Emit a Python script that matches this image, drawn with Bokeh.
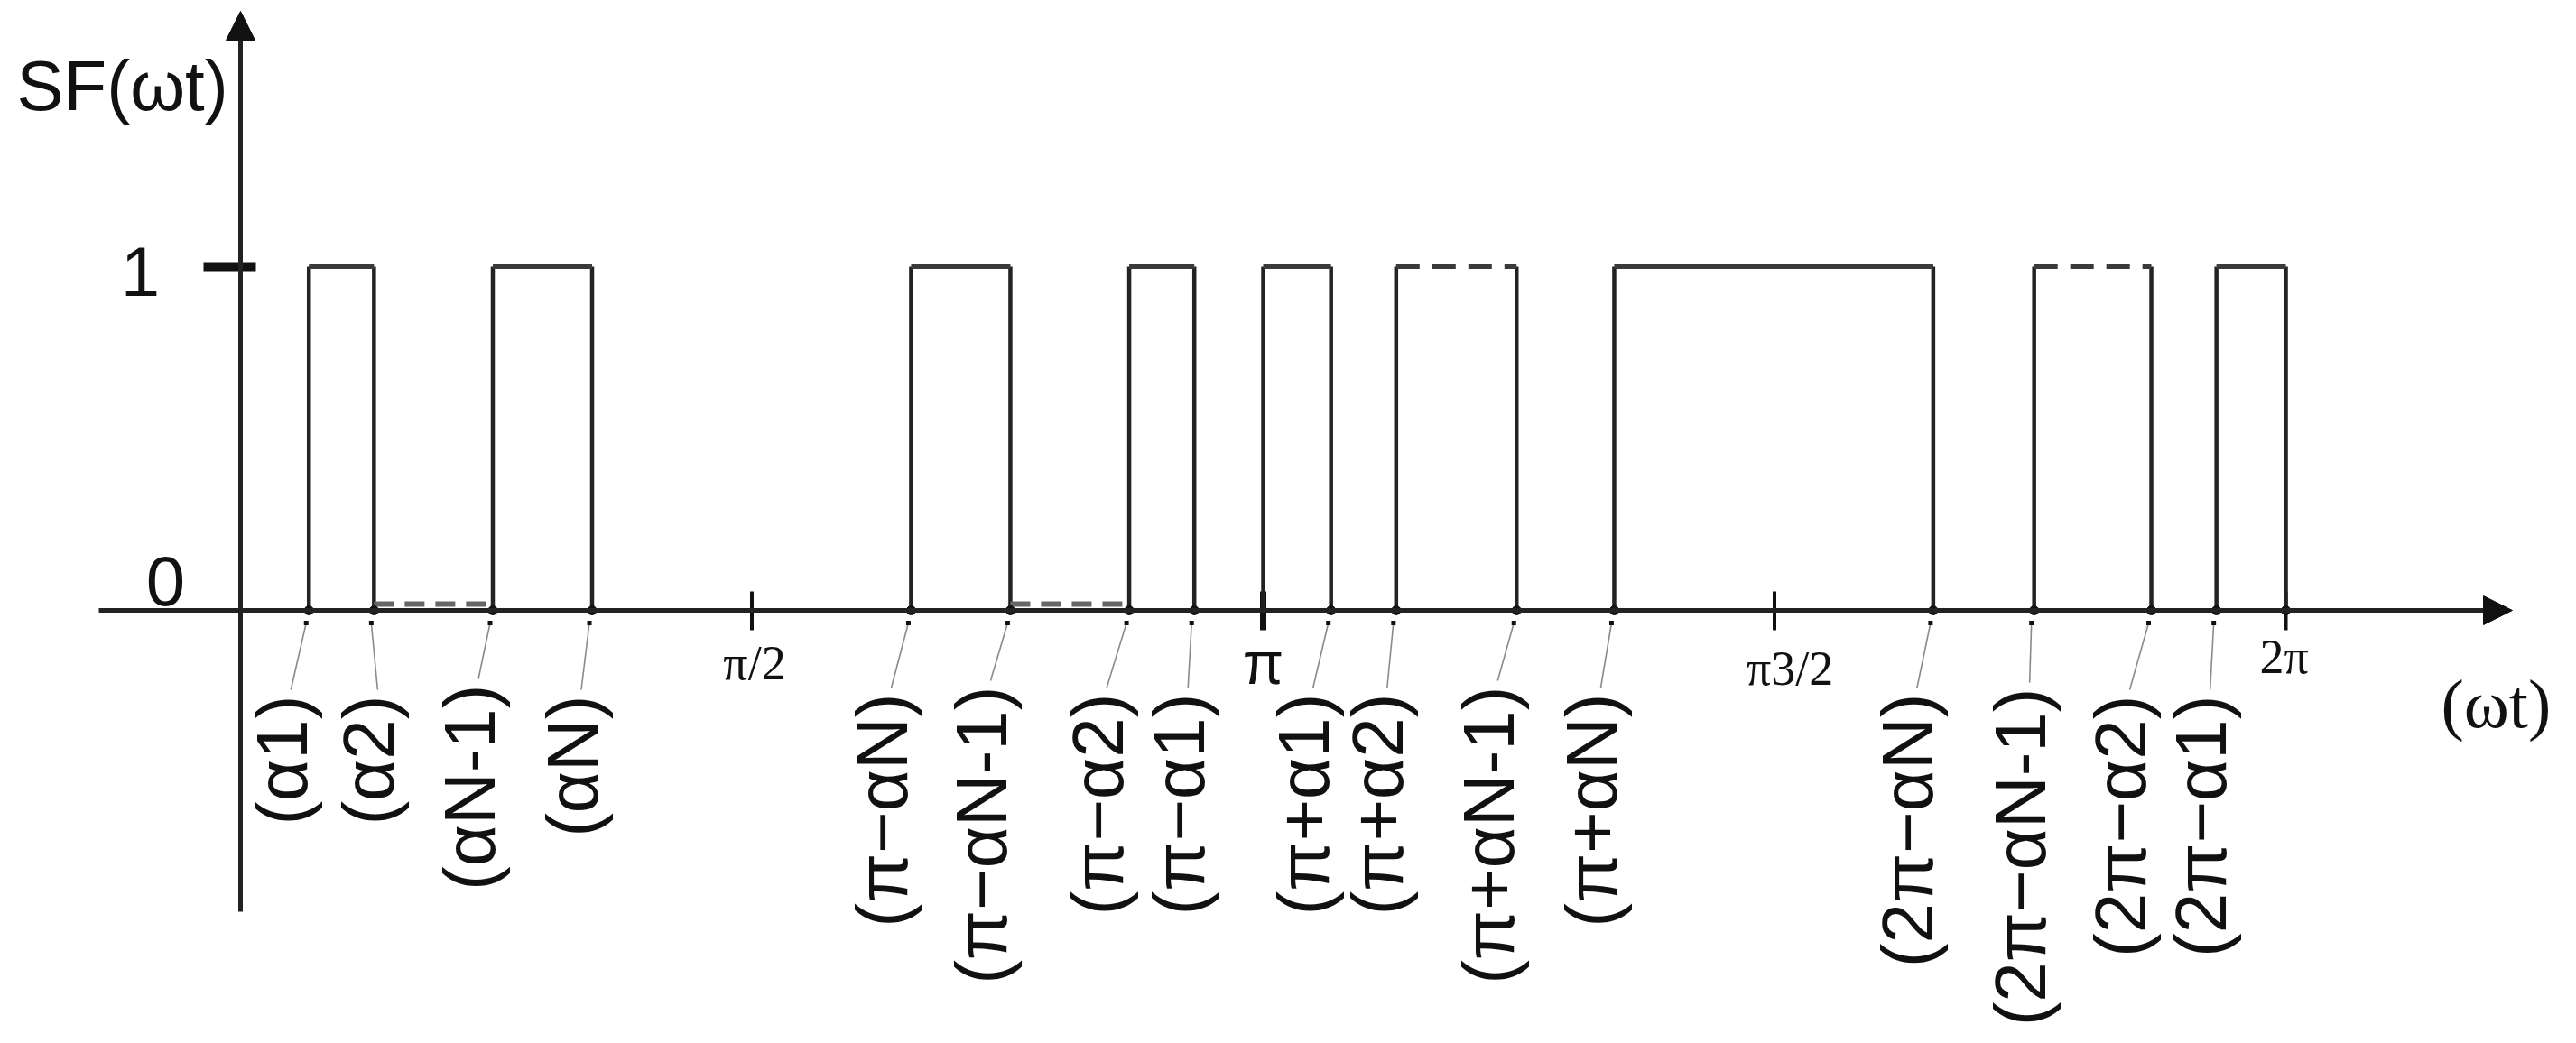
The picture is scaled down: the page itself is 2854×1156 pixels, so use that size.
import math
from bokeh.plotting import figure
from bokeh.models import Range1d, Arrow, NormalHead, ColumnDataSource
from bokeh.core.properties import value
from bokeh.embed import file_html
from bokeh.resources import INLINE

PI = math.pi

# ---------------- data ----------------
edge_names = ["α1", "α2", "αN-1", "αN",
              "π−αN", "π−αN-1", "π−α2", "π−α1",
              "π+α1", "π+α2", "π+αN-1", "π+αN",
              "2π−αN", "2π−αN-1", "2π−α2", "2π−α1"]
edge_values = [0.21, 0.41, 0.775, 1.08,
               2.06, 2.365, 2.73, 2.93,
               3.35, 3.55, 3.92, 4.22,
               5.20, 5.51, 5.87, 6.07]

pulse_start = [0.21, 0.775, 2.06, 2.73, PI, 3.55, 4.22, 5.51, 6.07]
pulse_end = [0.41, 1.08, 2.365, 2.93, 3.35, 3.92, 5.20, 5.87, 2 * PI]
pulse_level = [1, 1, 1, 1, 1, 1, 1, 1, 1]
pulse_top_dashed = [False, False, False, False, False, True, False, True, False]

gap_dashed_start = [0.41, 2.365]
gap_dashed_end = [0.775, 2.73]

x_tick_values = [PI / 2, PI, 3 * PI / 2, 2 * PI]
x_tick_labels = ["π/2", "π", "π3/2", "2π"]
y_tick_values = [0, 1]
y_tick_labels = ["0", "1"]

# ---------------- layout (reference pixel geometry) ----------------
X0_PX, PX_PER_RAD = 266.0, 360.65
Y0_PX, PX_PER_UNIT = 676.0, 381.0
W, H = 2854, 1156


def X(px):
    return (px - X0_PX) / PX_PER_RAD


def Y(px):
    return (Y0_PX - px) / PX_PER_UNIT


def DX(px):
    return px / PX_PER_RAD


label_dx = [-30, -6, -26, -22, -32, -32, -35, -17, -30, -20, -31, -25, -28, -15, -34, -17]
label_top = [770, 770, 758, 770, 768, 760, 768, 768, 768, 768, 760, 768, 768, 762, 770, 770]

INK = "#222222"

p = figure(width=W, height=H,
           x_range=Range1d(X(0), X(W)),
           y_range=Range1d(Y(H), Y(0)),
           x_axis_type=None, y_axis_type=None,
           output_backend="svg", toolbar_location=None, min_border=0)
p.grid.visible = False
p.outline_line_color = None
p.background_fill_color = "white"
p.border_fill_color = "white"

# axes with arrows
p.add_layout(Arrow(end=NormalHead(size=32, fill_color="#111111", line_color="#111111"),
                   x_start=X(109), y_start=0, x_end=X(2783), y_end=0,
                   line_width=5, line_color=INK))
p.add_layout(Arrow(end=NormalHead(size=32, fill_color="#111111", line_color="#111111"),
                   x_start=0, y_start=Y(1010), x_end=0, y_end=Y(12),
                   line_width=5, line_color=INK))

# y tick at level 1
p.segment(x0=[X(225)], y0=[y_tick_values[1]], x1=[X(283)], y1=[y_tick_values[1]],
          line_width=10, line_color="#111111")

# x ticks
p.segment(x0=x_tick_values, y0=[Y(655)] * 4, x1=x_tick_values, y1=[Y(698)] * 4,
          line_width=[4, 7, 4, 4], line_color="#111111")

# pulses
vx = pulse_start + pulse_end
p.segment(x0=vx, y0=[0] * len(vx), x1=vx, y1=pulse_level + pulse_level,
          line_width=4.5, line_color=INK)
solid = [i for i, d in enumerate(pulse_top_dashed) if not d]
dashed = [i for i, d in enumerate(pulse_top_dashed) if d]
p.segment(x0=[pulse_start[i] for i in solid], y0=[pulse_level[i] for i in solid],
          x1=[pulse_end[i] for i in solid], y1=[pulse_level[i] for i in solid],
          line_width=5, line_color="#3a3a3a")
p.segment(x0=[pulse_start[i] for i in dashed], y0=[pulse_level[i] for i in dashed],
          x1=[pulse_end[i] for i in dashed], y1=[pulse_level[i] for i in dashed],
          line_width=5, line_color="#3a3a3a", line_dash="26 14")

# dashed zero-level pieces
p.segment(x0=gap_dashed_start, y0=[Y(669)] * 2, x1=gap_dashed_end, y1=[Y(669)] * 2,
          line_width=6, line_color="#666666", line_dash="22 12")

# dots on the axis
p.scatter(x=edge_values + [2 * PI], y=[0] * (len(edge_values) + 1), size=10,
          marker="circle", fill_color="#111111", line_color="#111111")

# labels under the axis
lab_x = [v + DX(d) for v, d in zip(edge_values, label_dx)]
lab_y = [Y(t) for t in label_top]
src = ColumnDataSource(dict(
    x=lab_x, y=lab_y, text=["(" + n + ")" for n in edge_names],
    ex=[v - DX(3) for v in edge_values], ey=[Y(690)] * len(edge_values),
    lx=[x + DX(10) for x in lab_x], ly=[Y(t - 6) for t in label_top],
))
p.segment(x0="ex", y0="ey", x1="lx", y1="ly", source=src, line_width=1.6, line_color="#8a8a8a")
p.scatter(x="ex", y="ey", source=src, size=5, marker="square", fill_color="#111111", line_color=None)
p.text(x="x", y="y", text="text", source=src, angle=PI / 2,
       text_align="right", text_baseline="middle",
       text_font=value("Liberation Sans"), text_font_size="80px", text_color="#111111")

# x tick labels (y = visual middle line)
serif_idx = [0, 2, 3]
serif_dx = [3, 17, -2]
serif_mid = [734, 740, 727]
p.text(x=[x_tick_values[i] + DX(d) for i, d in zip(serif_idx, serif_dx)],
       y=[Y(m) for m in serif_mid],
       text=[x_tick_labels[i] for i in serif_idx],
       text_align="center", text_baseline="middle",
       text_font=value("Liberation Serif"), text_font_size="54px", text_color="#111111")
p.text(x=[x_tick_values[1]], y=[Y(734)], text=[x_tick_labels[1]],
       text_align="center", text_baseline="middle",
       text_font=value("Liberation Sans"), text_font_size="66px", text_color="#111111")

# y tick labels
p.text(x=[X(183), X(155)], y=[Y(643), Y(300)], text=y_tick_labels,
       text_align="center", text_baseline="middle",
       text_font=value("Liberation Sans"), text_font_size="78px", text_color="#111111")

# axis titles
p.text(x=[X(18)], y=[Y(94)], text=["SF(ωt)"], text_align="left", text_baseline="middle",
       text_font=value("Liberation Sans"), text_font_size="78px", text_color="#111111")
p.text(x=[X(2704)], y=[Y(779)], text=["(ωt)"], text_align="left", text_baseline="middle",
       text_font=value("Liberation Serif"), text_font_size="76px", text_color="#111111")

open("out.html", "w").write(file_html(p, INLINE))
